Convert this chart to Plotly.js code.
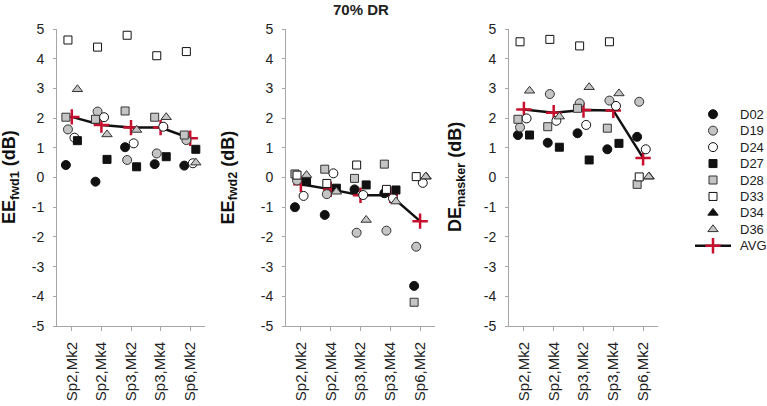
<!DOCTYPE html>
<html>
<head>
<meta charset="utf-8">
<script src="https://cdn.plot.ly/plotly-3.0.1.min.js"></script>
<style>
  html, body { margin: 0; padding: 0; background: #fff; }
  #chart { width: 767px; height: 406px; }
</style>
</head>
<body>
<div id="chart"></div>
<script>
// conditions on the x axis
var conditions = ["Sp2,Mk2", "Sp2,Mk4", "Sp3,Mk2", "Sp3,Mk4", "Sp6,Mk2"];
var subjects = ["D02", "D19", "D24", "D27", "D28", "D33", "D34", "D36"];
var yTickVals = [-5, -4, -3, -2, -1, 0, 1, 2, 3, 4, 5];
var yTickText = ["-5", "-4", "-3", "-2", "-1", "0", "1", "2", "3", "4", "5"];

// EEfwd1 (dB), one row per subject
var eeFwd1 = [
    [0.42, -0.14, 1.02, 0.45, 0.40],
    [1.62, 2.22, 0.59, 0.81, 1.26],
    [1.34, 2.03, 1.15, 1.71, 0.48],
    [1.24, 0.61, 0.36, 0.70, 0.95],
    [2.03, 1.96, 2.24, 2.03, 1.43],
    [4.63, 4.39, 4.79, 4.10, 4.24],
    [null, null, null, null, null],
    [2.97, 1.45, 1.60, 2.03, 0.50]
];
var eeFwd1Avg = [2.04, 1.77, 1.68, 1.68, 1.32];

// EEfwd2 (dB)
var eeFwd2 = [
    [-1.00, -1.26, -0.40, -0.53, -3.65],
    [-0.10, -0.56, -1.86, -1.79, -2.33],
    [-0.62, 0.14, -0.59, -0.70, -0.18],
    [-0.14, -0.36, -0.25, -0.42, null],
    [0.12, 0.28, -0.03, 0.45, -4.20],
    [0.08, -0.20, 0.42, -0.40, 0.03],
    [null, null, null, null, 0.03],
    [0.08, -0.48, -1.43, -0.81, 0.03]
];
var eeFwd2Avg = [-0.23, -0.40, -0.60, -0.60, -1.47];

// DEmasker (dB)
var deMasker = [
    [1.43, 1.17, 1.49, 0.95, 1.37],
    [1.69, 2.81, 2.50, 2.59, 2.55],
    [1.99, 1.91, 1.77, 2.41, 0.95],
    [1.43, 1.02, 0.59, 1.15, null],
    [1.96, 1.71, 2.33, 1.66, -0.23],
    [4.57, 4.65, 4.43, 4.57, 0.02],
    [null, null, null, null, 0.03],
    [2.92, 2.05, 3.04, 2.83, 0.03]
];
var deMaskerAvg = [2.29, 2.18, 2.27, 2.26, 0.66];

var fontFam = "Liberation Sans, Arial, sans-serif";
var axisGray = "#a6a6a6";
var gray = "#c4c4c4";

// marker look per subject, and the small sideways shift inside a category
var symbols = ["circle", "circle", "circle", "square", "square", "square", "triangle-up", "triangle-up"];
var fills = ["#111", gray, "#fff", "#111", gray, "#fff", "#111", gray];
var edges = ["#111", "#333", "#111", "#111", "#333", "#111", "#111", "#333"];
var sizes = [9, 9, 9, 8, 8, 8, 9, 9];
var shifts = [-0.2, -0.13, 0.09, 0.19, -0.2, -0.13, 0.2, 0.19];

var panels = [
    {vals: eeFwd1, avg: eeFwd1Avg, title: "EE<sub>fwd1</sub> (dB)", dom: [57, 205], tx: 10.5},
    {vals: eeFwd2, avg: eeFwd2Avg, title: "EE<sub>fwd2</sub> (dB)", dom: [286, 435], tx: 229},
    {vals: deMasker, avg: deMaskerAvg, title: "DE<sub>masker</sub> (dB)", dom: [509, 658], tx: 456.5}
];

var W = 767, H = 406;
var yDom = [1 - 326 / H, 1 - 29 / H];

var traces = [];
var layout = {
    width: W,
    height: H,
    margin: {l: 0, r: 0, t: 0, b: 0},
    paper_bgcolor: "#fff",
    plot_bgcolor: "rgba(0,0,0,0)",
    showlegend: false,
    font: {family: fontFam, color: "#222"},
    annotations: [
        {text: "<b>70% DR</b>", xref: "paper", yref: "paper", x: 361 / W, y: 1 - 9 / H,
         showarrow: false, xanchor: "center", yanchor: "middle", font: {size: 15, color: "#222"}}
    ]
};

function idx() {
    var a = [];
    for (var i = 0; i < conditions.length; i++) a.push(i);
    return a;
}

for (var p = 0; p < panels.length; p++) {
    var pn = panels[p];
    var xa = p == 0 ? "x" : "x" + (p + 1);
    var ya = p == 0 ? "y" : "y" + (p + 1);

    // average line goes under the markers
    traces.push({
        x: idx(), y: pn.avg, xaxis: xa, yaxis: ya,
        type: "scatter", mode: "lines+markers", name: "AVG",
        line: {color: "#111", width: 2.5},
        marker: {symbol: "cross-thin", size: 11, line: {color: "#c8102e", width: 2.5}},
        cliponaxis: false
    });

    for (var s = 0; s < subjects.length; s++) {
        var xs = [];
        for (var i = 0; i < conditions.length; i++) xs.push(i + shifts[s]);
        traces.push({
            x: xs, y: pn.vals[s], xaxis: xa, yaxis: ya,
            type: "scatter", mode: "markers", name: subjects[s],
            marker: {symbol: symbols[s], size: sizes[s], color: fills[s],
                     line: {color: edges[s], width: 1}},
            cliponaxis: false
        });
    }

    var xkey = p == 0 ? "xaxis" : "xaxis" + (p + 1);
    var ykey = p == 0 ? "yaxis" : "yaxis" + (p + 1);
    layout[xkey] = {
        domain: [pn.dom[0] / W, pn.dom[1] / W],
        anchor: ya,
        range: [-0.5, 4.5],
        tickmode: "array",
        tickvals: idx(),
        ticktext: conditions,
        tickangle: -90,
        ticks: "outside", ticklen: 4, tickcolor: axisGray,
        ticklabelstandoff: 5,
        showline: true, linecolor: axisGray, linewidth: 1,
        showgrid: false, zeroline: false, fixedrange: true,
        tickfont: {family: fontFam, size: 15, color: "#222"}
    };
    layout[ykey] = {
        domain: yDom,
        anchor: xa,
        range: [-5, 5],
        tickmode: "array", tickvals: yTickVals, ticktext: yTickText,
        ticks: "outside", ticklen: 3, tickcolor: axisGray,
        ticklabelstandoff: 6,
        showline: true, linecolor: axisGray, linewidth: 1,
        showgrid: false, zeroline: false, fixedrange: true,
        tickfont: {family: fontFam, size: 14, color: "#222"}
    };
    layout.annotations.push({
        text: "<b>" + pn.title + "</b>", xref: "paper", yref: "paper",
        x: pn.tx / W, y: 1 - 177.5 / H, textangle: -90,
        showarrow: false, xanchor: "center", yanchor: "middle",
        font: {size: 18, color: "#111"}
    });
}

// hand made legend in its own small hidden subplot (row spacing of the original)
layout.xaxis4 = {domain: [695 / W, 731 / W], range: [0, 1], visible: false, fixedrange: true, anchor: "y4"};
layout.yaxis4 = {domain: [1 - 254 / H, 1 - 106 / H], range: [8.5, -0.5], visible: false, fixedrange: true, anchor: "x4"};
for (var s = 0; s < subjects.length; s++) {
    traces.push({
        x: [0.5], y: [s], xaxis: "x4", yaxis: "y4",
        type: "scatter", mode: "markers", hoverinfo: "skip",
        marker: {symbol: symbols[s], size: sizes[s], color: fills[s], line: {color: edges[s], width: 1}},
        cliponaxis: false
    });
    layout.annotations.push({
        text: subjects[s], xref: "x4", yref: "y4", x: 1, y: s, xshift: 7,
        showarrow: false, xanchor: "left", yanchor: "middle",
        font: {size: 13, color: "#222"}
    });
}
var avgRow = subjects.length;
traces.push({
    x: [0, 1], y: [avgRow, avgRow], xaxis: "x4", yaxis: "y4",
    type: "scatter", mode: "lines", hoverinfo: "skip",
    line: {color: "#111", width: 2.5},
    cliponaxis: false
});
traces.push({
    x: [0.5], y: [avgRow], xaxis: "x4", yaxis: "y4",
    type: "scatter", mode: "markers", hoverinfo: "skip",
    marker: {symbol: "cross-thin", size: 11, line: {color: "#c8102e", width: 2.5}},
    cliponaxis: false
});
layout.annotations.push({
    text: "AVG", xref: "x4", yref: "y4", x: 1, y: avgRow, xshift: 7,
    showarrow: false, xanchor: "left", yanchor: "middle",
    font: {size: 13, color: "#222"}
});

Plotly.newPlot("chart", traces, layout, {displayModeBar: false, staticPlot: true});
</script>
</body>
</html>
